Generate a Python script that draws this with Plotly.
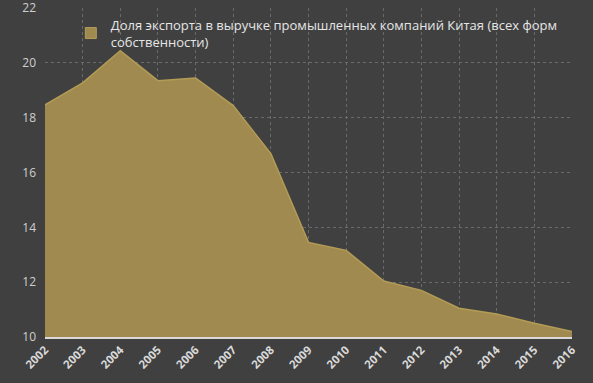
import plotly.graph_objects as go

years = [2002, 2003, 2004, 2005, 2006, 2007, 2008, 2009, 2010, 2011, 2012, 2013, 2014, 2015, 2016]
export_share = [18.47, 19.27, 20.44, 19.35, 19.45, 18.44, 16.69, 13.45, 13.16, 12.04, 11.7, 11.05, 10.84, 10.5, 10.2]
y_ticks = [10, 12, 14, 16, 18, 20, 22]
series_name = "Доля экспорта в выручке промышленных компаний Китая (всех форм<br>собственности)"

FILL = "#a08a4f"
fig = go.Figure()
fig.add_trace(go.Scatter(
    x=years, y=export_share, name=series_name,
    mode="lines", fill="tozeroy", showlegend=False,
    line=dict(color="#b39c55", width=1.5),
    fillcolor=FILL,
))
# legend entry with a square swatch
fig.add_trace(go.Scatter(
    x=[None], y=[None], name=series_name, mode="markers",
    marker=dict(symbol="square", size=11, color=FILL, line=dict(color="#b39c55", width=1)),
    showlegend=True,
))

BG = "#404040"
fig.update_layout(
    width=593, height=383,
    paper_bgcolor=BG, plot_bgcolor=BG,
    margin=dict(l=45, r=21, t=8, b=46, autoexpand=False),
    font=dict(family="Open Sans, Liberation Sans, sans-serif", color="#d9d9d9"),
    showlegend=True,
    legend=dict(
        x=0.049, y=0.995, xanchor="left", yanchor="top",
        bgcolor="rgba(0,0,0,0)",
        font=dict(size=13, color="#e6e6e6"),
        itemwidth=30,
    ),
    xaxis=dict(
        range=[2002, 2016], tickmode="array", tickvals=years,
        ticktext=[f"<b>{y}</b>" for y in years],
        tickangle=-45, tickfont=dict(size=11.5, color="#d9d9d9"),
        showgrid=True, gridcolor="#6a6a6a", griddash="dot", gridwidth=1,
        showline=True, linecolor="#d9d9d9", linewidth=1.5,
        zeroline=False, ticks="", automargin=False,
    ),
    yaxis=dict(
        range=[10, 22.0001], tickmode="array", tickvals=y_ticks,
        ticktext=[str(v) for v in y_ticks],
        tickfont=dict(size=12, color="#cfcfcf"),
        showgrid=True, gridcolor="#6a6a6a", griddash="dot", gridwidth=1,
        zeroline=False, ticks="", ticklabelstandoff=8, automargin=False,
        ticklabeloverflow="allow",
    ),
)

fig.write_html(
    "out.html",
    config={"displayModeBar": False},
    post_script="document.body.style.margin='0';document.body.style.background='#404040';",
)
